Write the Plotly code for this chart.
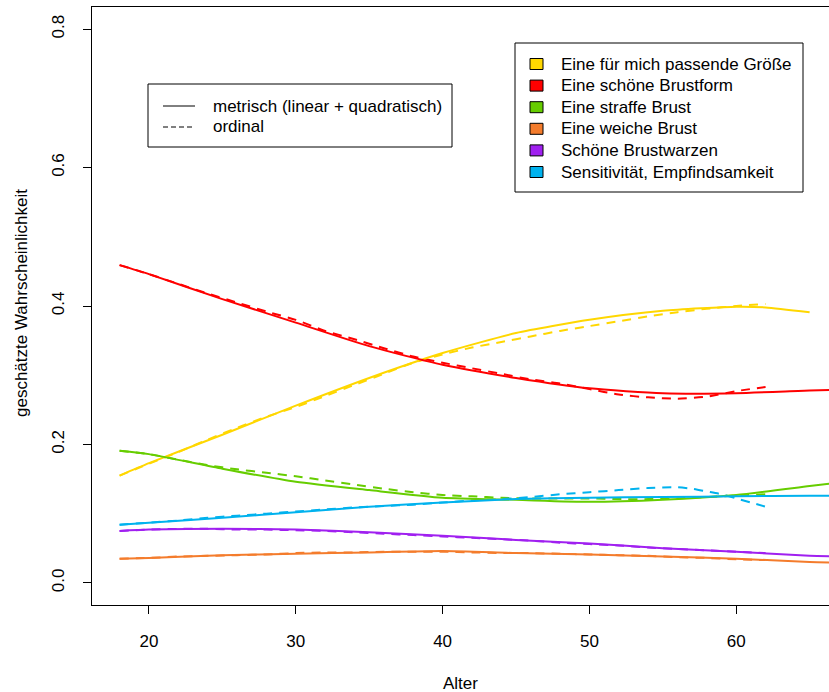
import plotly.graph_objects as go

# ---------------- data ----------------
categories = [
    "Eine für mich passende Größe",
    "Eine schöne Brustform",
    "Eine straffe Brust",
    "Eine weiche Brust",
    "Schöne Brustwarzen",
    "Sensitivität, Empfindsamkeit",
]
colors = ["#FFD700", "#FF0000", "#66CD00", "#F47C2C", "#A020F0", "#00B2EE"]

# metric model (linear + quadratic)
ages_m = [18, 20, 25, 30, 35, 40, 45, 50, 55, 60, 65, 67]
ages_m_yellow = [18, 20, 25, 30, 35, 40, 45, 50, 55, 60, 62, 65]
yellow_m = [0.155, 0.173, 0.214, 0.256, 0.296, 0.332, 0.361, 0.380, 0.393, 0.399, 0.398, 0.391]
red_m = [0.459, 0.446, 0.410, 0.376, 0.342, 0.315, 0.296, 0.281, 0.274, 0.274, 0.278, 0.279]
green_m = [0.191, 0.186, 0.165, 0.146, 0.134, 0.123, 0.120, 0.117, 0.120, 0.127, 0.140, 0.145]
orange_m = [0.035, 0.036, 0.040, 0.042, 0.044, 0.046, 0.043, 0.041, 0.038, 0.035, 0.030, 0.029]
purple_m = [0.075, 0.077, 0.078, 0.077, 0.073, 0.068, 0.062, 0.057, 0.050, 0.045, 0.039, 0.038]
blue_m = [0.084, 0.087, 0.094, 0.102, 0.110, 0.116, 0.121, 0.123, 0.124, 0.125, 0.126, 0.126]

# ordinal model
ages_o = [18, 20, 22, 24, 26, 28, 30, 32, 34, 36, 38, 40, 42, 44, 46, 48, 50, 52, 54, 56, 58, 60, 62]
yellow_o = [0.155, 0.172, 0.189, 0.207, 0.224, 0.240, 0.254, 0.270, 0.286, 0.302, 0.318, 0.330,
            0.340, 0.348, 0.356, 0.364, 0.371, 0.378, 0.385, 0.391, 0.396, 0.400, 0.403]
red_o = [0.459, 0.446, 0.432, 0.418, 0.405, 0.392, 0.380, 0.364, 0.352, 0.339, 0.327, 0.318,
         0.310, 0.302, 0.294, 0.288, 0.280, 0.272, 0.268, 0.266, 0.269, 0.277, 0.283]
green_o = [0.191, 0.186, 0.178, 0.170, 0.164, 0.159, 0.154, 0.148, 0.142, 0.136, 0.131, 0.127,
           0.125, 0.123, 0.122, 0.122, 0.122, 0.121, 0.121, 0.122, 0.124, 0.126, 0.128]
orange_o = [0.035, 0.036, 0.038, 0.039, 0.040, 0.041, 0.043, 0.044, 0.044, 0.045, 0.045, 0.045,
            0.044, 0.043, 0.043, 0.042, 0.041, 0.040, 0.039, 0.037, 0.036, 0.034, 0.033]
purple_o = [0.075, 0.077, 0.078, 0.078, 0.077, 0.077, 0.076, 0.075, 0.073, 0.071, 0.069, 0.067,
            0.065, 0.063, 0.061, 0.058, 0.056, 0.054, 0.051, 0.049, 0.047, 0.045, 0.043]
ages_o_blue = [18, 20, 22, 24, 26, 28, 30, 32, 34, 36, 38, 40, 42, 44, 46, 48, 50, 52, 54, 56, 57, 58, 59, 60, 61, 62]
blue_o = [0.084, 0.087, 0.090, 0.094, 0.097, 0.100, 0.103, 0.106, 0.109, 0.111, 0.113, 0.116,
          0.119, 0.121, 0.124, 0.128, 0.131, 0.134, 0.137, 0.138, 0.136, 0.132, 0.128, 0.122, 0.116, 0.110]

x_ticks = [20, 30, 40, 50, 60]
y_ticks = [0.0, 0.2, 0.4, 0.6, 0.8]
y_tick_labels = ["0.0", "0.2", "0.4", "0.6", "0.8"]
x_title = "Alter"
y_title = "geschätzte Wahrscheinlichkeit"
linetype_labels = ["metrisch (linear + quadratisch)", "ordinal"]

# ---------------- layout geometry (pixels) ----------------
W, H = 829, 692
L, R, T, B = 92, 829, 7, 605
FONT = "Liberation Sans, Arial, sans-serif"
FS = 17


def px(x):
    return (x - L) / (R - L)


def py(y):
    return (B - y) / (B - T)


fig = go.Figure()

metric_sets = [
    (ages_m_yellow, yellow_m), (ages_m, red_m), (ages_m, green_m),
    (ages_m, orange_m), (ages_m, purple_m), (ages_m, blue_m),
]
ordinal_sets = [
    (ages_o, yellow_o), (ages_o, red_o), (ages_o, green_o),
    (ages_o, orange_o), (ages_o, purple_o), (ages_o_blue, blue_o),
]

for (xs, ys), c in zip(ordinal_sets, colors):
    fig.add_trace(go.Scatter(x=xs, y=ys, mode="lines",
                             line=dict(color=c, width=2, dash="9px,7px", shape="spline", smoothing=0.6),
                             showlegend=False, hoverinfo="skip"))
for (xs, ys), c in zip(metric_sets, colors):
    fig.add_trace(go.Scatter(x=xs, y=ys, mode="lines",
                             line=dict(color=c, width=2, shape="spline", smoothing=0.6),
                             showlegend=False, hoverinfo="skip"))

shapes = []
annotations = []

# legend 1 (line types)
shapes.append(dict(type="rect", xref="paper", yref="paper", x0=px(148), x1=px(452), y0=py(84), y1=py(147),
                   line=dict(color="black", width=1), fillcolor="white", layer="above"))
for i, (lab, dash) in enumerate(zip(linetype_labels, ["solid", "5px,3px"])):
    yy = 106 + i * 21
    shapes.append(dict(type="line", xref="paper", yref="paper", x0=px(163), x1=px(195), y0=py(yy), y1=py(yy),
                       line=dict(color="black", width=1, dash=dash), layer="above"))
    annotations.append(dict(text=lab, xref="paper", yref="paper", x=px(211), y=py(yy), xanchor="left", yanchor="middle",
                            showarrow=False, font=dict(family=FONT, size=FS, color="black")))

# legend 2 (categories)
shapes.append(dict(type="rect", xref="paper", yref="paper", x0=px(515), x1=px(803), y0=py(43), y1=py(192),
                   line=dict(color="black", width=1), fillcolor="white", layer="above"))
for i, (lab, c) in enumerate(zip(categories, colors)):
    yy = 64 + i * 21.6
    shapes.append(dict(type="rect", xref="paper", yref="paper", x0=px(530), x1=px(543), y0=py(yy - 5.5), y1=py(yy + 5.5),
                       line=dict(color="black", width=1), fillcolor=c, layer="above"))
    annotations.append(dict(text=lab, xref="paper", yref="paper", x=px(559), y=py(yy), xanchor="left", yanchor="middle",
                            showarrow=False, font=dict(family=FONT, size=FS, color="black")))

# axis titles
annotations.append(dict(text=x_title, xref="paper", yref="paper", x=0.5, y=py(683), xanchor="center", yanchor="middle",
                        showarrow=False, font=dict(family=FONT, size=FS, color="black")))
annotations.append(dict(text=y_title, xref="paper", yref="paper", x=px(21), y=py(303), xanchor="center", yanchor="middle",
                        textangle=-90, showarrow=False, font=dict(family=FONT, size=FS, color="black")))

fig.update_layout(
    width=W, height=H,
    margin=dict(l=L, r=W - R, t=T, b=H - B, pad=0),
    paper_bgcolor="white", plot_bgcolor="white",
    shapes=shapes, annotations=annotations,
    font=dict(family=FONT, size=FS, color="black"),
    showlegend=False,
)
fig.update_xaxes(range=[16.12, 66.32], tickvals=x_ticks, ticks="outside", ticklen=8, tickcolor="black",
                 showline=True, linecolor="black", linewidth=1, mirror=True, showgrid=False, zeroline=False,
                 ticklabelstandoff=13, tickfont=dict(family=FONT, size=FS))
fig.update_yaxes(range=[-0.032, 0.832], tickvals=y_ticks, ticktext=y_tick_labels, ticks="outside", ticklen=8,
                 tickcolor="black", showline=True, linecolor="black", linewidth=1, showgrid=False, zeroline=False,
                 tickangle=-90, ticklabelstandoff=12, tickfont=dict(family=FONT, size=FS))

fig.write_html("out.html")
